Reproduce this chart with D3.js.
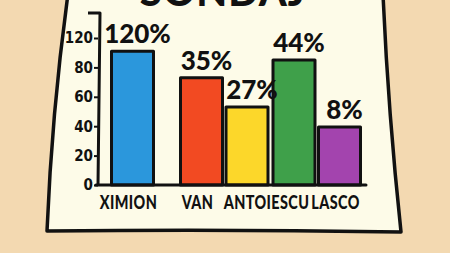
<!DOCTYPE html>
<html>
<head>
<meta charset="utf-8">
<script src="https://cdn.jsdelivr.net/npm/d3@7"></script>
<style>
  html, body { margin: 0; padding: 0; background: #f3d9b1; }
  svg { display: block; }
  text { font-family: Lato, "Open Sans", sans-serif; font-weight: 900; fill: #111; }
</style>
</head>
<body>
<div id="chart-container"></div>
<script>
// names under the axis; ANTOIESCU has two bars (yellow and green) over it
const names = ["XIMION", "VAN", "ANTOIESCU", "LASCO"];
const nameBars = [["ximion"], ["van"], ["antoiescu", "green"], ["lasco"]];

// bars as drawn (height on the drawn axis) and the text written over them
const bars = ["ximion", "van", "antoiescu", "green", "lasco"];
const barHeights = [91, 73, 53, 85, 39.5];
const valueLabels = ["120%", "35%", "27%", "44%", "8%"];
const barColors = ["#2b97dc", "#f24a22", "#fcd72a", "#3fa04a", "#a344ae"];

const yTickValues = [0, 20, 40, 60, 80, 100];
const yTickLabels = ["0", "20", "40", "60", "80", "120"];

const title = "SONDAJ";

const width = 450, height = 253;
const barW = 42, barGap = 5;

const svg = d3.select("#chart-container").append("svg")
    .attr("width", width)
    .attr("height", height);

// paper sheet
const paper = d3.path();
paper.moveTo(68, -6);
paper.quadraticCurveTo(52, 110, 47, 231);
paper.quadraticCurveTo(224, 229, 401, 232);
paper.quadraticCurveTo(388, 110, 383, -6);
paper.closePath();
svg.append("path")
    .attr("d", paper.toString())
    .attr("fill", "#fdfbe8")
    .attr("stroke", "#111")
    .attr("stroke-width", 3.5)
    .attr("stroke-linejoin", "round");

// title, mostly cut off by the top edge
svg.append("text")
    .attr("x", 223)
    .attr("y", 6)
    .attr("text-anchor", "middle")
    .style("font-size", "40px")
    .style("letter-spacing", "1px")
    .text(title);

const x0 = d3.scaleBand()
    .domain(names)
    .range([98, 374]);

const y = d3.scaleLinear()
    .domain([0, 100])
    .range([185, 38]);

// bar left edge: bars of one name sit side by side around the name's centre
function barX(b) {
    const i = nameBars.findIndex(g => g.includes(b));
    const group = nameBars[i];
    const total = group.length * barW + (group.length - 1) * barGap;
    const c = x0(names[i]) + x0.bandwidth() / 2;
    return c - total / 2 + group.indexOf(b) * (barW + barGap);
}

const chart = svg.append("g");

// y axis
const yAxis = chart.append("g")
    .attr("transform", "translate(98,0)")
    .call(d3.axisLeft(y)
        .tickValues(yTickValues)
        .tickFormat((d, i) => yTickLabels[i])
        .tickSize(4)
        .tickPadding(1));
yAxis.select(".domain").remove();
yAxis.selectAll(".tick line").attr("stroke", "#111").attr("stroke-width", 2);
yAxis.selectAll(".tick text")
    .style("font-size", "15px")
    .style("font-family", "'Liberation Sans Narrow', 'DejaVu Sans Condensed', sans-serif")
    .style("font-weight", 700)
    .attr("fill", "#111");

chart.append("path")
    .attr("d", `M88,${y.range()[1] - 25}H100L98,${y(0)}`)
    .attr("fill", "none")
    .attr("stroke", "#111")
    .attr("stroke-width", 3)
    .attr("stroke-linejoin", "round");

// bars
chart.selectAll(".bar")
    .data(bars)
    .enter().append("rect")
    .attr("class", "bar")
    .attr("x", d => barX(d))
    .attr("y", (d, i) => y(barHeights[i]))
    .attr("width", barW)
    .attr("height", (d, i) => y(0) - y(barHeights[i]))
    .attr("fill", (d, i) => barColors[i])
    .attr("stroke", "#111")
    .attr("stroke-width", 3)
    .attr("stroke-linejoin", "round");

// baseline
chart.append("line")
    .attr("x1", 96)
    .attr("x2", 366)
    .attr("y1", y(0))
    .attr("y2", y(0))
    .attr("stroke", "#111")
    .attr("stroke-width", 3)
    .attr("stroke-linecap", "round");

// value labels
chart.selectAll(".value")
    .data(bars)
    .enter().append("text")
    .attr("class", "value")
    .attr("x", d => barX(d) + barW / 2 + 5)
    .attr("y", (d, i) => y(barHeights[i]) - 8)
    .attr("text-anchor", "middle")
    .style("font-size", "26px")
    .text((d, i) => valueLabels[i]);

// name labels, a little narrowed like the hand lettering
chart.selectAll(".name")
    .data(names)
    .enter().append("text")
    .attr("class", "name")
    .attr("transform", d => `translate(${x0(d) + x0.bandwidth() / 2 - 4},${y(0) + 24}) scale(0.8,1)`)
    .attr("text-anchor", "middle")
    .style("font-size", "18px")
    .style("letter-spacing", "0.5px")
    .text(d => d);
</script>
</body>
</html>
